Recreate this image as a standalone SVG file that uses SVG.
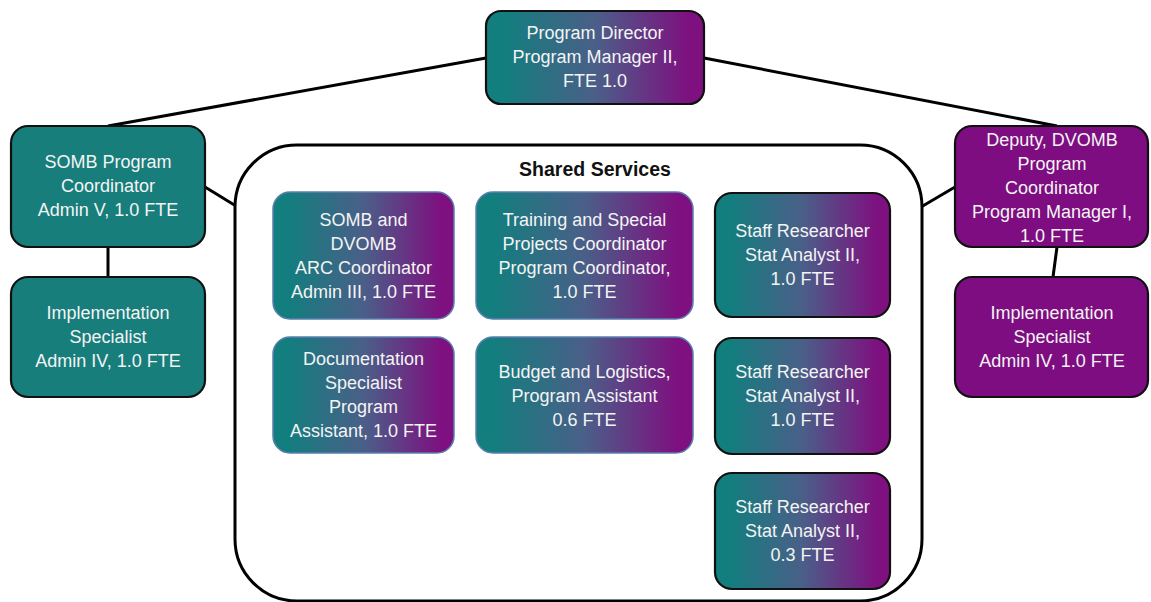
<svg xmlns="http://www.w3.org/2000/svg" width="1151" height="602" viewBox="0 0 1151 602">
  <defs>
    <linearGradient id="grad" x1="0" y1="0" x2="1" y2="0">
      <stop offset="0.08" stop-color="#127e7e"/>
      <stop offset="0.5" stop-color="#4a5f88"/>
      <stop offset="0.93" stop-color="#7e1080"/>
    </linearGradient>
  </defs>
  <style>
    .grad { fill: url(#grad); }
    .teal { fill: #177e7c; }
    .purple { fill: #7d0d80; }
    .dark { stroke: #111; stroke-width: 2.2; }
    .light { stroke: #5b7fae; stroke-width: 1.5; }
    .t { font-family: "Liberation Sans", Arial, sans-serif; font-size: 18px; fill: #f4f4f4; text-anchor: middle; }
    .title { font-family: "Liberation Sans", Arial, sans-serif; font-size: 19.5px; font-weight: bold; fill: #111; text-anchor: middle; }
    .conn { stroke: #000; stroke-width: 3; fill: none; }
  </style>
  <rect width="1151" height="602" fill="#ffffff"/>

  <g id="connectors">
    <line class="conn" x1="486" y1="58" x2="108" y2="126"/>
    <line class="conn" x1="704" y1="58" x2="1057" y2="126"/>
    <line class="conn" x1="205" y1="187" x2="236" y2="206"/>
    <line class="conn" x1="921" y1="207" x2="955" y2="187"/>
    <line class="conn" x1="108" y1="247" x2="108" y2="277"/>
    <line class="conn" x1="1057" y1="247" x2="1053" y2="277"/>
  </g>

  <g id="shared-services">
    <rect x="235" y="145" width="687" height="456" rx="62" ry="62" fill="#ffffff" stroke="#000" stroke-width="3"/>
    <text class="title" x="595" y="176">Shared Services</text>
  </g>

  <g id="program-director">
    <rect class="grad dark" x="486" y="11" width="218" height="93" rx="15"/>
    <text class="t" x="595" y="39">Program Director</text>
    <text class="t" x="595" y="63">Program Manager II,</text>
    <text class="t" x="595" y="87">FTE 1.0</text>
  </g>

  <g id="somb-coordinator">
    <rect class="teal dark" x="11" y="126" width="194" height="121" rx="17"/>
    <text class="t" x="108" y="168">SOMB Program</text>
    <text class="t" x="108" y="192">Coordinator</text>
    <text class="t" x="108" y="216">Admin V, 1.0 FTE</text>
  </g>

  <g id="impl-left">
    <rect class="teal dark" x="11" y="277" width="194" height="120" rx="17"/>
    <text class="t" x="108" y="319">Implementation</text>
    <text class="t" x="108" y="343">Specialist</text>
    <text class="t" x="108" y="367">Admin IV, 1.0 FTE</text>
  </g>

  <g id="deputy-dvomb">
    <rect class="purple dark" x="955" y="126" width="193" height="121" rx="17"/>
    <text class="t" x="1052" y="146">Deputy, DVOMB</text>
    <text class="t" x="1052" y="170">Program</text>
    <text class="t" x="1052" y="194">Coordinator</text>
    <text class="t" x="1052" y="218">Program Manager I,</text>
    <text class="t" x="1052" y="242">1.0 FTE</text>
  </g>

  <g id="impl-right">
    <rect class="purple dark" x="955" y="277" width="193" height="120" rx="17"/>
    <text class="t" x="1052" y="319">Implementation</text>
    <text class="t" x="1052" y="343">Specialist</text>
    <text class="t" x="1052" y="367">Admin IV, 1.0 FTE</text>
  </g>

  <g id="arc-coordinator">
    <rect class="grad light" x="273" y="192" width="181" height="127" rx="17"/>
    <text class="t" x="363.5" y="226">SOMB and</text>
    <text class="t" x="363.5" y="250">DVOMB</text>
    <text class="t" x="363.5" y="274">ARC Coordinator</text>
    <text class="t" x="363.5" y="298">Admin III, 1.0 FTE</text>
  </g>

  <g id="documentation-specialist">
    <rect class="grad light" x="273" y="337" width="181" height="116" rx="17"/>
    <text class="t" x="363.5" y="365">Documentation</text>
    <text class="t" x="363.5" y="389">Specialist</text>
    <text class="t" x="363.5" y="413">Program</text>
    <text class="t" x="363.5" y="437">Assistant, 1.0 FTE</text>
  </g>

  <g id="training-coordinator">
    <rect class="grad light" x="476" y="192" width="217" height="127" rx="17"/>
    <text class="t" x="584.5" y="226">Training and Special</text>
    <text class="t" x="584.5" y="250">Projects Coordinator</text>
    <text class="t" x="584.5" y="274">Program Coordinator,</text>
    <text class="t" x="584.5" y="298">1.0 FTE</text>
  </g>

  <g id="budget-logistics">
    <rect class="grad light" x="476" y="337" width="217" height="116" rx="17"/>
    <text class="t" x="584.5" y="378">Budget and Logistics,</text>
    <text class="t" x="584.5" y="402">Program Assistant</text>
    <text class="t" x="584.5" y="426">0.6 FTE</text>
  </g>

  <g id="staff-researcher-1">
    <rect class="grad dark" x="715" y="193" width="175" height="124" rx="17"/>
    <text class="t" x="802.5" y="237">Staff Researcher</text>
    <text class="t" x="802.5" y="261">Stat Analyst II,</text>
    <text class="t" x="802.5" y="285">1.0 FTE</text>
  </g>

  <g id="staff-researcher-2">
    <rect class="grad dark" x="715" y="338" width="175" height="116" rx="17"/>
    <text class="t" x="802.5" y="378">Staff Researcher</text>
    <text class="t" x="802.5" y="402">Stat Analyst II,</text>
    <text class="t" x="802.5" y="426">1.0 FTE</text>
  </g>

  <g id="staff-researcher-3">
    <rect class="grad dark" x="715" y="473" width="175" height="116" rx="17"/>
    <text class="t" x="802.5" y="513">Staff Researcher</text>
    <text class="t" x="802.5" y="537">Stat Analyst II,</text>
    <text class="t" x="802.5" y="561">0.3 FTE</text>
  </g>
</svg>
